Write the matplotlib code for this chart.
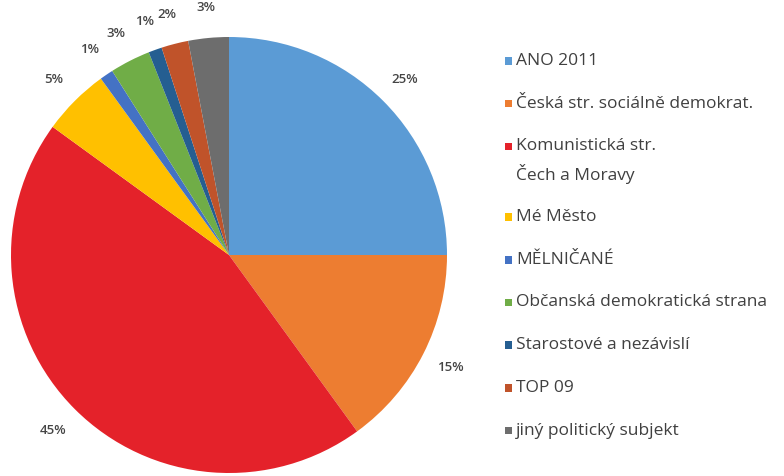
import matplotlib
matplotlib.use("Agg")
import matplotlib.pyplot as plt
from matplotlib.patches import Rectangle

parties = ["ANO 2011", "Česká str. sociálně demokrat.", "Komunistická str.\nČech a Moravy",
           "Mé Město", "MĚLNIČANÉ", "Občanská demokratická strana",
           "Starostové a nezávislí", "TOP 09", "jiný politický subjekt"]
shares = [25, 15, 45, 5, 1, 3, 1, 2, 3]
colors = ["#5B9BD5", "#ED7D31", "#E4222A", "#FFC000", "#4472C4", "#70AD47",
          "#255E91", "#C0532A", "#6D6D6D"]

W, H = 784, 476
fig = plt.figure(figsize=(W / 100, H / 100), dpi=100)
ax = fig.add_axes([0, 0, 1, 1])

cx, cy, R = 229, H - 255, 218
wedges, texts, autotexts = ax.pie(
    shares, colors=colors, startangle=90, counterclock=False,
    center=(cx, cy), radius=R, autopct=lambda p: f"{p:.0f}%",
    pctdistance=1.14, wedgeprops=dict(linewidth=0),
    textprops=dict(color="#454545", fontsize=9.5, family="Open Sans",
                   fontweight="semibold"))
ax.set_xlim(0, W)
ax.set_ylim(0, H)
ax.set_aspect("auto")
ax.axis("off")

# manual legend (pixel layout, top-down)
y = 61.0
step = 42.7
line_gap = 28.0
box = 7.5
for name, col in zip(parties, colors):
    ax.add_patch(Rectangle((505, H - y - box / 2), box, box, color=col, lw=0))
    for k, line in enumerate(name.split("\n")):
        ax.text(516, H - y - k * line_gap, line, va="center", ha="left",
                fontsize=12.5, family="Open Sans", color="#404040")
    y += step + line_gap * (name.count("\n"))

fig.savefig("out.png", dpi=100)
